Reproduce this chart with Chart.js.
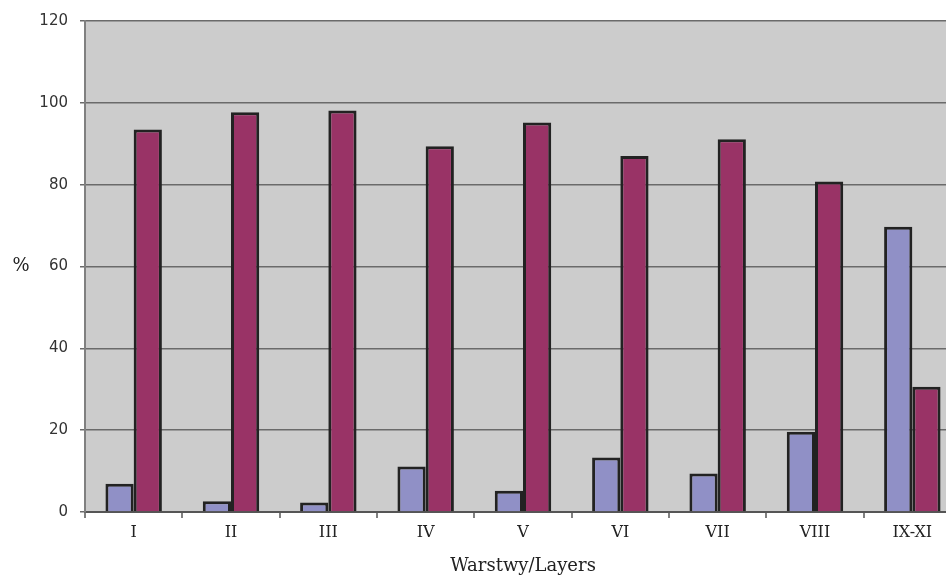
<!DOCTYPE html>
<html>
<head>
<meta charset="utf-8">
<script src="https://cdn.jsdelivr.net/npm/chart.js@4/dist/chart.umd.min.js"></script>
<style>
  html, body { margin: 0; padding: 0; background: #fff; overflow: hidden; }
  #wrap { width: 965px; height: 577px; }
</style>
</head>
<body>
<div id="wrap"><canvas id="wykres" width="965" height="577"></canvas></div>
<script>
// Dane
const warstwy = ["I", "II", "III", "IV", "V", "VI", "VII", "VIII", "IX-XI"];
const seriaNiebieska = [6.9, 2.6, 2.3, 11.1, 5.2, 13.3, 9.4, 19.6, 69.7];
const seriaBordowa = [93.5, 97.7, 98.1, 89.4, 95.2, 87.0, 91.1, 80.8, 30.6];

// Tło obszaru wykresu i znak "%"
const tloPlugin = {
  id: "tlo",
  beforeDraw(chart) {
    const { ctx, chartArea } = chart;
    ctx.save();
    ctx.fillStyle = "#cccccc";
    ctx.fillRect(chartArea.left, chartArea.top, chartArea.right - chartArea.left, chartArea.bottom - chartArea.top);
    ctx.restore();
  },
  afterDraw(chart) {
    const { ctx, chartArea } = chart;
    ctx.save();
    ctx.fillStyle = "#222";
    ctx.font = "18px 'DejaVu Serif'";
    ctx.textAlign = "center";
    ctx.textBaseline = "middle";
    ctx.fillText("%", 21, (chartArea.top + chartArea.bottom) / 2);
    ctx.restore();
  }
};

const ctx = document.getElementById("wykres").getContext("2d");
const chart = new Chart(ctx, {
  type: "bar",
  data: {
    labels: warstwy,
    datasets: [{
      data: seriaNiebieska,
      backgroundColor: "#9090c6",
      borderColor: "#222222",
      borderWidth: 3
    }, {
      data: seriaBordowa,
      backgroundColor: "#993366",
      borderColor: "#222222",
      borderWidth: 3
    }]
  },
  options: {
    responsive: false,
    animation: false,
    layout: { padding: { top: 20, right: 4, left: 0, bottom: 0 } },
    categoryPercentage: 0.58,
    barPercentage: 1.0,
    plugins: {
      legend: { display: false },
      tooltip: { enabled: false }
    },
    scales: {
      x: {
        grid: {
          display: true,
          drawOnChartArea: false,
          drawTicks: true,
          tickLength: 6,
          color: "#808080",
          lineWidth: 2
        },
        border: { color: "#555", width: 2 },
        ticks: {
          color: "#222",
          font: { family: "DejaVu Serif", size: 16 },
          padding: 5,
          maxRotation: 0
        },
        title: {
          display: true,
          text: "Warstwy/Layers",
          color: "#222",
          font: { family: "DejaVu Serif", size: 18 },
          padding: { top: 4, bottom: 0 }
        },
        afterFit(scale) { scale.height = 65; }
      },
      y: {
        min: 0,
        max: 120,
        ticks: {
          stepSize: 20,
          color: "#333",
          font: { family: "DejaVu Sans", size: 15 },
          padding: 12
        },
        grid: {
          color: "#6a6a6a",
          lineWidth: 1.5,
          tickLength: 5,
          drawTicks: true
        },
        border: { color: "#808080", width: 2 },
        afterFit(scale) { scale.width = 85; }
      }
    }
  },
  plugins: [tloPlugin]
});

chart.render();
</script>
</body>
</html>
